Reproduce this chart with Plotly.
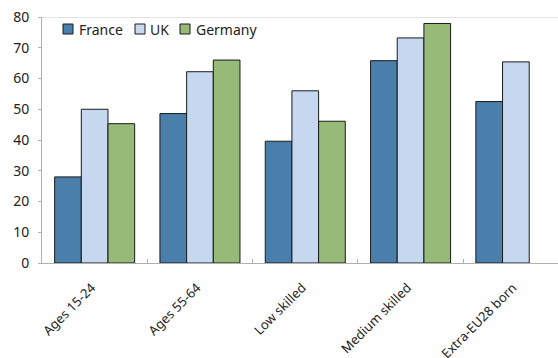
import plotly.graph_objects as go

categories = ["Ages 15-24", "Ages 55-64", "Low skilled", "Medium skilled", "Extra-EU28 born"]
france = [28.0, 48.6, 39.6, 65.8, 52.5]
uk = [50.0, 62.2, 56.0, 73.2, 65.4]
germany = [45.3, 66.0, 46.1, 77.9, None]
y_ticks = [0, 10, 20, 30, 40, 50, 60, 70, 80]

series = [("France", france, "#4A7EAB"), ("UK", uk, "#C6D8EF"), ("Germany", germany, "#97BA78")]

W, H = 558, 358
L, R, T, B = 42, 0, 17, 95
PW, PH = W - L - R, H - T - B

def px(x):
    return (x - L) / PW

def py(y):
    return (H - B - y) / PH

fig = go.Figure()
for name, vals, col in series:
    fig.add_trace(go.Bar(
        name=name, x=categories, y=vals,
        marker=dict(color=col, line=dict(color="#1a1a1a", width=1)),
        showlegend=False,
    ))

fig.update_layout(
    width=W, height=H,
    margin=dict(l=L, r=R, t=T, b=B),
    paper_bgcolor="white", plot_bgcolor="white",
    barmode="group", bargap=0.24, bargroupgap=0,
    font=dict(family="Noto Sans", size=14, color="#222222"),
    showlegend=False,
)
fig.update_xaxes(
    range=[-0.5, 4.4], showline=True, linecolor="#b0b0b0", linewidth=1,
    ticks="inside", tickson="boundaries", ticklen=4, tickcolor="#b0b0b0",
    tickangle=-45, tickfont=dict(size=13), showgrid=False,
    ticklabelstandoff=11, ticklabelshift=-3, automargin=False,
)
fig.update_yaxes(
    range=[0, 80], tickvals=y_ticks, showline=True, linecolor="#b0b0b0", linewidth=1,
    ticks="outside", ticklen=3, tickcolor="#b0b0b0", showgrid=False, zeroline=False,
    tickfont=dict(size=14), ticklabelstandoff=6, automargin=False,
)
fig.add_shape(type="line", xref="paper", yref="y", x0=0, x1=1, y0=80, y1=80,
              line=dict(color="#d9d9d9", width=1.5))

# manual legend
legend_pos = [(63, 77), (135, 148), (180, 194)]
for (name, _, col), (sx, tx) in zip(series, legend_pos):
    fig.add_shape(type="rect", xref="paper", yref="paper",
                  x0=px(sx), x1=px(sx + 10), y0=py(24), y1=py(34),
                  fillcolor=col, line=dict(color="#1a1a1a", width=1))
    fig.add_annotation(xref="paper", yref="paper", x=px(tx), y=py(29),
                       text=name, showarrow=False, xanchor="left", yanchor="middle",
                       font=dict(size=14, color="#222222"))

fig.write_html("out.html")
